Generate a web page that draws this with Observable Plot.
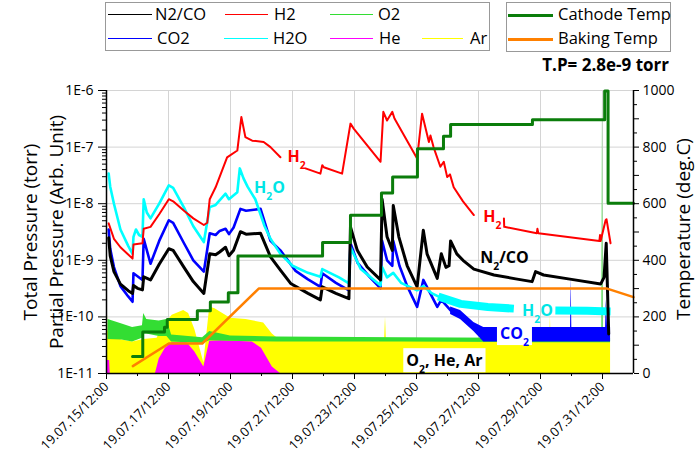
<!DOCTYPE html>
<html><head><meta charset="utf-8">
<script src="https://cdn.jsdelivr.net/npm/d3@7"></script>
<script src="https://cdn.jsdelivr.net/npm/@observablehq/plot@0.6"></script>
<style>
body{margin:0;background:#fff;font-family:"Open Sans",sans-serif;}
#wrap{position:relative;width:700px;height:467px;overflow:hidden;}
.lg{position:absolute;border:1px solid #999;background:#fff;box-sizing:border-box;}
.sw{position:absolute;height:0;}
.lt{position:absolute;font-size:16.5px;line-height:20px;white-space:nowrap;color:#000;}
#tp{position:absolute;font-weight:bold;font-size:17px;white-space:nowrap;}
</style></head><body><div id="wrap"></div>
<script>
// ---- data (day = day of July 2019, decimal; value = pressure) ----
const n2co = [[15.57,2.5e-9],[15.62,1.2e-9],[15.74,6.3e-10],[15.95,3.8e-10],[16.2,2.9e-10],[16.34,2.6e-10],[16.37,3.6e-10],[16.5,3.2e-10],[16.66,3.0e-10],[16.70,5.1e-10],[16.92,4.5e-10],[17.2,8.5e-10],[17.51,1.6e-9],[17.65,1.5e-9],[18.0,7.5e-10],[18.3,4.2e-10],[18.64,2.6e-10],[18.83,1.3e-9],[19.02,1.25e-9],[19.15,1.4e-9],[19.34,1.7e-9],[19.45,1.2e-9],[19.6,1.5e-9],[19.82,3.2e-9],[20.0,2.9e-9],[20.47,3.0e-9],[20.79,1.15e-9],[21.11,6.7e-10],[21.44,3.9e-10],[22.0,2.6e-10],[22.40,2.0e-10],[22.46,3.4e-10],[22.9,2.6e-10],[23.32,2.1e-10],[23.37,3.9e-9],[23.59,1.5e-9],[23.91,7.6e-10],[24.34,4.5e-10],[24.39,1.2e-8],[24.55,2.6e-9],[24.72,1.5e-9],[24.75,9.3e-9],[24.93,2.6e-9],[25.2,8e-10],[25.52,3.4e-10],[25.72,3.4e-9],[25.84,1.3e-9],[26.17,4.8e-10],[26.30,1.3e-9],[26.45,7.5e-10],[26.55,8e-10],[26.6,2.2e-9],[26.8,1.3e-9],[27.0,1.0e-9],[27.35,7e-10],[28.0,5.5e-10],[28.7,4.7e-10],[29.23,4.2e-10],[29.34,6.3e-10],[29.6,5.5e-10],[30.5,4.6e-10],[31.44,3.8e-10],[31.55,5e-10],[31.62,2.0e-9],[31.70,5e-11]];
const h2 = [[15.57,4.5e-9],[15.74,2.4e-9],[15.95,1.7e-9],[16.34,1.07e-9],[16.37,1.9e-9],[16.66,2.0e-9],[16.70,3.6e-9],[16.92,3.9e-9],[17.2,6.5e-9],[17.51,1.2e-8],[17.65,1.1e-8],[18.0,7.5e-9],[18.3,5.5e-9],[18.64,4.2e-9],[18.75,4.6e-9],[18.83,1.2e-8],[19.02,1.95e-8],[19.39,6.6e-8],[19.72,8.7e-8],[19.85,3.4e-7],[19.98,1.5e-7],[20.2,1.3e-7],[20.57,1.23e-7],[20.79,1e-7],[21.11,6.6e-8],[21.5,null],[21.92,4.2e-8],[22.40,3.4e-8],[22.46,4.8e-8],[22.51,4.4e-8],[23.10,3.4e-8],[23.37,2.6e-7],[23.48,2.1e-7],[24.34,5.5e-8],[24.43,4.2e-7],[24.55,2.95e-7],[24.72,4.2e-7],[24.79,3.2e-7],[25.52,6.3e-8],[25.68,3.9e-7],[25.90,1.23e-7],[25.95,1.6e-7],[26.05,1e-7],[26.27,4.5e-8],[26.38,5.5e-8],[26.49,2.95e-8],[26.58,3.3e-8],[26.70,1.95e-8],[27.0,1.1e-8],[27.35,6.3e-9],[27.8,null],[28.32,5.5e-9],[28.33,3.9e-9],[29.38,3.0e-9],[29.40,3.6e-9],[29.43,3.0e-9],[31.40,2.2e-9],[31.42,2.8e-9],[31.44,2.2e-9],[31.60,5.1e-9],[31.63,5.3e-9],[31.76,2.0e-9]];
const co2 = [[15.57,3.5e-9],[15.62,1.6e-9],[15.74,7.6e-10],[15.95,3.5e-10],[16.2,2.3e-10],[16.34,1.85e-10],[16.37,5.9e-10],[16.66,4.5e-10],[16.70,2.4e-9],[16.92,8.7e-10],[17.2,2.2e-9],[17.51,5.1e-9],[17.65,4.6e-9],[18.0,2.0e-9],[18.3,1.0e-9],[18.64,6.3e-10],[18.83,3.0e-9],[19.02,2.8e-9],[19.15,3.3e-9],[19.34,3.6e-9],[19.45,2.9e-9],[19.6,3.8e-9],[19.82,8.1e-9],[20.0,7.5e-9],[20.47,8.1e-9],[20.79,2.2e-9],[21.11,1.5e-9],[21.6,6.5e-10],[22.0,4.6e-10],[22.40,3.4e-10],[22.46,5.9e-10],[22.9,4e-10],[23.32,2.95e-10],[23.37,2.0e-9],[23.6,9e-10],[24.0,5e-10],[24.34,3.2e-10],[24.39,2.2e-9],[24.55,1.0e-9],[24.72,8e-10],[24.75,2.2e-9],[24.95,8e-10],[25.2,3.5e-10],[25.52,1.5e-10],[25.72,4.5e-10],[26.17,1.5e-10],[26.3,2e-10],[26.6,1.3e-10]];
const co2Band = [[26.6,1.1e-10,1.5e-10],[26.92,9e-11,1.3e-10],[27.35,5.5e-11,8e-11],[27.67,3.6e-11,6.5e-11],[30.47,3.6e-11,6.5e-11],[30.49,3.6e-11,5e-10],[30.51,3.6e-11,6.5e-11],[31.6,3.6e-11,6.5e-11],[31.62,3.6e-11,2e-10],[31.66,3.6e-11,7e-11],[31.76,3.6e-11,6.5e-11]];
const h2o = [[15.57,3.4e-8],[15.62,2e-8],[15.74,1e-8],[15.95,3.5e-9],[16.2,1.8e-9],[16.34,1.3e-9],[16.37,2.6e-9],[16.45,3.5e-9],[16.55,2.8e-9],[16.66,2.6e-9],[16.70,1.2e-8],[16.8,7e-9],[16.92,5.5e-9],[17.2,1e-8],[17.51,2.1e-8],[17.65,1.9e-8],[18.0,8.5e-9],[18.3,4e-9],[18.64,2.1e-9],[18.83,8.7e-9],[19.02,9.5e-9],[19.34,1.5e-8],[19.45,1.2e-8],[19.72,1.6e-8],[19.80,4.2e-8],[19.92,2.8e-8],[20.05,2e-8],[20.3,1.2e-8],[20.6,4e-9],[20.79,2.4e-9],[21.11,1.3e-9],[21.5,8e-10],[22.0,6e-10],[22.40,5.1e-10],[22.46,7e-10],[23.0,5e-10],[23.32,3.9e-10],[23.37,1.7e-9],[23.7,7e-10],[24.34,3.6e-10],[24.39,7.6e-10],[24.55,5e-10],[24.75,6e-10],[25.0,4e-10],[25.52,2.95e-10],[25.72,3.5e-10],[26.0,2.6e-10],[26.2,2.3e-10]];
const h2oBand = [[26.2,2.3e-10],[26.92,1.7e-10],[27.8,1.5e-10],[28.64,1.4e-10],[29.3,null],[29.98,1.3e-10],[31.0,1.28e-10],[31.76,1.25e-10]];
const o2 = [[15.55,4e-11,9e-11],[16.0,3.9e-11,7.5e-11],[16.34,3.6e-11,6.5e-11],[16.66,4.2e-11,7e-11],[16.70,5e-11,1.15e-10],[16.8,5e-11,9e-11],[17.2,4.5e-11,8.5e-11],[17.45,4.5e-11,9e-11],[17.6,3.6e-11,4.8e-11],[18.6,3.4e-11,4.3e-11],[18.83,3.8e-11,5.5e-11],[19.5,3.7e-11,4.6e-11],[21.0,3.6e-11,4.4e-11],[25.0,3.6e-11,4.3e-11],[29.0,3.5e-11,4.2e-11],[31.48,3.5e-11,4.2e-11],[31.50,3.5e-11,1e-6],[31.52,3.5e-11,4.2e-11],[31.76,3.5e-11,4.2e-11]];
const he = [[15.52,1.7e-11],[15.6,1.7e-11],[15.62,1e-11],[17.08,1e-11],[17.2,1.8e-11],[17.4,2.8e-11],[17.62,3.5e-11],[18.1,3.5e-11],[18.35,2.4e-11],[18.64,1.3e-11],[18.83,3.7e-11],[19.2,3.8e-11],[20.2,3.6e-11],[20.5,2.8e-11],[20.85,1.3e-11],[21.11,1e-11]];
const ar = [[15.52,2.2e-10],[15.545,6e-11],[15.6,4.5e-11],[16.0,3.9e-11],[16.34,3.6e-11],[16.7,4.0e-11],[17.13,4.2e-11],[17.35,7e-11],[17.62,1.07e-10],[17.99,1.3e-10],[18.15,1.15e-10],[18.35,6e-11],[18.64,1.55e-11],[18.83,1.5e-10],[19.0,1.4e-10],[19.5,9.5e-11],[20.0,9e-11],[20.57,7.8e-11],[20.85,5e-11],[21.11,3.8e-11],[24.47,3.7e-11],[24.5,1e-10],[24.53,3.7e-11],[29.80,3.6e-11],[29.82,1.05e-10],[29.84,3.6e-11],[31.76,3.6e-11]];
// temperatures (deg C)
const cathode = [[16.34,60],[16.67,147],[17.37,163],[17.46,191],[18.43,222],[18.85,253],[19.43,285],[19.74,415],[22.47,463],[23.37,559],[24.37,638],[24.73,694],[25.53,794],[26.37,838],[26.6,880],[29.24,897],[31.57,998],[31.68,602],[32.5,602]];
const baking = [[16.35,26],[17.51,106],[18.59,106],[20.41,300],[31.65,300],[32.5,270]];
// ticks
const xMajorDays = [15.5,17.5,19.5,21.5,23.5,25.5,27.5,29.5,31.5];
const xMinorDays = [16.5,18.5,20.5,22.5,24.5,26.5,28.5,30.5];
const yTicks = [1e-11,1e-10,1e-9,1e-8,1e-7,1e-6];
const tempTicks = [0,100,200,300,400,500,600,700,800,900,1000];
const tempMinor = [50,150,250,350,450,550,650,750,850,950];
// annotations
const annH2a = [{t:"H₂", day:21.63, v:6.6e-8}];
const annH2Oa = [{t:"H₂O", day:20.76, v:1.9e-8}];
const annH2b = [{t:"H₂", day:27.95, v:5.8e-9}];
const annN2 = [{t:"N₂/CO", day:28.34, v:1.1e-9}];
const annH2Ob = [{t:"H₂O", day:29.4, v:1.3e-10}];
const annCO2 = [{t:"CO₂", day:28.66, v:5e-11}];
const annRest = [{t:"O₂, He, Ar", day:26.4, v:1.66e-11}];

const toDate = d => new Date(Date.UTC(2019,6,1) + (d-1)*864e5);
const tf = T => 1e-11*Math.pow(10, T/200);
const X = d => toDate(d[0]);
const yMinor = [];
for (let e=-11;e<-6;e++) for (let m=2;m<=9;m++) yMinor.push(m*Math.pow(10,e));

const annMark = (arr, fill, opts={}) => Plot.text(arr, {x:d=>toDate(d.day), y:d=>d.v, text:d=>d.t, fill, fontSize:16, fontWeight:"bold", ...opts});

const chart = Plot.plot({
  width:700, height:467, marginLeft:106, marginRight:67, marginTop:90, marginBottom:94,
  x:{type:"utc", domain:[toDate(15.5), toDate(32.5)]},
  y:{type:"log", domain:[1e-11,1e-6]},
  style:{fontFamily:"'Open Sans', sans-serif", fontSize:"14px", color:"#000", background:"transparent", overflow:"visible"},
  marks:[
    Plot.gridY(yTicks, {stroke:"#d4d4d4", strokeOpacity:1}),
    Plot.gridX(xMajorDays.map(toDate), {stroke:"#d4d4d4", strokeOpacity:1}),
    Plot.areaY(ar, {x:X, y1:1e-11, y2:d=>d[1], fill:"#ffff00"}),
    Plot.areaY(he, {x:X, y1:1e-11, y2:d=>d[1], fill:"#ff00ff"}),
    Plot.areaY(o2, {x:X, y1:d=>d[1], y2:d=>d[2], fill:"#33dd33"}),
    Plot.areaY(co2Band, {x:X, y1:d=>d[1], y2:d=>d[2], fill:"#0000ff"}),
    Plot.line(co2, {x:X, y:d=>d[1], stroke:"#0000ff", strokeWidth:2.6}),
    Plot.line(h2o, {x:X, y:d=>d[1], stroke:"#00ffff", strokeWidth:2.6}),
    Plot.line(h2oBand, {x:X, y:d=>d[1], stroke:"#00ffff", strokeWidth:8, strokeLinecap:"butt"}),
    Plot.line(n2co, {x:X, y:d=>d[1], stroke:"#000", strokeWidth:3}),
    Plot.line(h2, {x:X, y:d=>d[1], stroke:"#ff0000", strokeWidth:2}),
    Plot.line(baking, {x:X, y:d=>tf(d[1]), stroke:"#ff8000", strokeWidth:2.5}),
    Plot.line(cathode, {x:X, y:d=>tf(d[1]), curve:"step-after", stroke:"#0b7d0b", strokeWidth:3}),
    Plot.ruleY([1e-11], {stroke:"#000", strokeWidth:1.5}),
    Plot.ruleX([toDate(15.5), toDate(32.5)], {stroke:"#000", strokeWidth:1.5}),
    Plot.axisY({ticks:yTicks, tickFormat:d=>"1E"+Math.round(Math.log10(d)), tickSize:8, tickPadding:5, fontSize:14, label:null}),
    Plot.axisY({ticks:yMinor, tickFormat:()=>"", tickSize:4, label:null}),
    Plot.axisY({anchor:"right", ticks:tempTicks.map(tf), tickFormat:d=>String(Math.round(200*Math.log10(d/1e-11))), tickSize:5, tickPadding:4, fontSize:14, label:null}),
    Plot.axisY({anchor:"right", ticks:tempMinor.map(tf), tickFormat:()=>"", tickSize:3, label:null}),
    Plot.axisX({ticks:xMajorDays.map(toDate), tickFormat:d3.utcFormat("%y.%m.%d/%H:%M"), tickRotate:-45, tickSize:6, tickPadding:5, fontSize:13, label:null}),
    Plot.axisX({ticks:xMinorDays.map(toDate), tickFormat:()=>"", tickSize:3, label:null}),
    Plot.text(["Total Pressure (torr)"], {frameAnchor:"left", text:d=>d, rotate:-90, dx:-76, fontSize:19, textAnchor:"middle"}),
    Plot.text(["Partial Pressure (Arb. Unit)"], {frameAnchor:"left", text:d=>d, rotate:-90, dx:-50, fontSize:19, textAnchor:"middle"}),
    Plot.text(["Temperature (deg.C)"], {frameAnchor:"right", text:d=>d, rotate:-90, dx:50, dy:-3, fontSize:19, textAnchor:"middle"}),
    annMark(annH2a, "#ff0000"),
    annMark(annH2Oa, "#00e5e5"),
    annMark(annH2b, "#ff0000"),
    annMark(annN2, "#000"),
    annMark(annH2Ob, "#00e5e5"),
    annMark(annCO2, "#0000ff", {className:"boxed"}),
    annMark(annRest, "#000", {className:"boxed"})
  ]
});

const wrap = document.getElementById("wrap");
wrap.appendChild(chart);
const svg = chart.tagName.toLowerCase()==="svg" ? chart : chart.querySelector("svg");
const NS = "http://www.w3.org/2000/svg";
// white boxes behind boxed labels
svg.querySelectorAll("g.boxed text").forEach(t=>{
  const b = t.getBBox();
  const r = document.createElementNS(NS,"rect");
  r.setAttribute("x", b.x-3); r.setAttribute("y", b.y-1);
  r.setAttribute("width", b.width+6); r.setAttribute("height", b.height+2);
  r.setAttribute("fill","#fff");
  if (t.getAttribute("transform")) r.setAttribute("transform", t.getAttribute("transform"));
  t.parentNode.insertBefore(r, t);
});
// subscripts
svg.querySelectorAll("text").forEach(t=>{
  const s = t.textContent;
  if (!s.includes("₂")) return;
  while (t.firstChild) t.removeChild(t.firstChild);
  const parts = s.split("₂");
  parts.forEach((p,i)=>{
    if (i>0){
      const sub = document.createElementNS(NS,"tspan");
      sub.setAttribute("baseline-shift","sub");
      sub.setAttribute("font-size","65%");
      sub.textContent = "2";
      t.appendChild(sub);
    }
    if (p){
      const ts = document.createElementNS(NS,"tspan");
      ts.textContent = p;
      t.appendChild(ts);
    }
  });
});

// legends (HTML overlay)
function legendBox(x,y,w,h){const d=document.createElement("div");d.className="lg";Object.assign(d.style,{left:x+"px",top:y+"px",width:w+"px",height:h+"px"});wrap.appendChild(d);}
function item(x1,x2,tx,cy,color,label,lw){
  const s=document.createElement("div");s.className="sw";
  Object.assign(s.style,{left:x1+"px",top:(cy-lw/2)+"px",width:(x2-x1)+"px",borderTop:lw+"px solid "+color});
  wrap.appendChild(s);
  const t=document.createElement("div");t.className="lt";t.textContent=label;
  Object.assign(t.style,{left:tx+"px",top:(cy-11)+"px"});
  wrap.appendChild(t);
}
legendBox(105,2,385,49);
item(108,152,155,15,"#000","N2/CO",1.8);
item(225,268,274,15,"#ff0000","H2",1.8);
item(330,373,378,15,"#33dd33","O2",1.8);
item(108,152,157,39,"#0000ff","CO2",1.8);
item(224,268,273,39,"#00ffff","H2O",1.8);
item(330,373,379,39,"#ff00ff","He",1.8);
item(422,463,470,39,"#ffff00","Ar",1.8);
legendBox(506,2,165,50);
item(508,553,558,15,"#0b7d0b","Cathode Temp",3);
item(508,553,558,39,"#ff8000","Baking Temp",3);
const tp=document.createElement("div");tp.id="tp";tp.textContent="T.P= 2.8e-9 torr";
Object.assign(tp.style,{right:(700-669)+"px",top:"53px"});
wrap.appendChild(tp);
</script></body></html>
